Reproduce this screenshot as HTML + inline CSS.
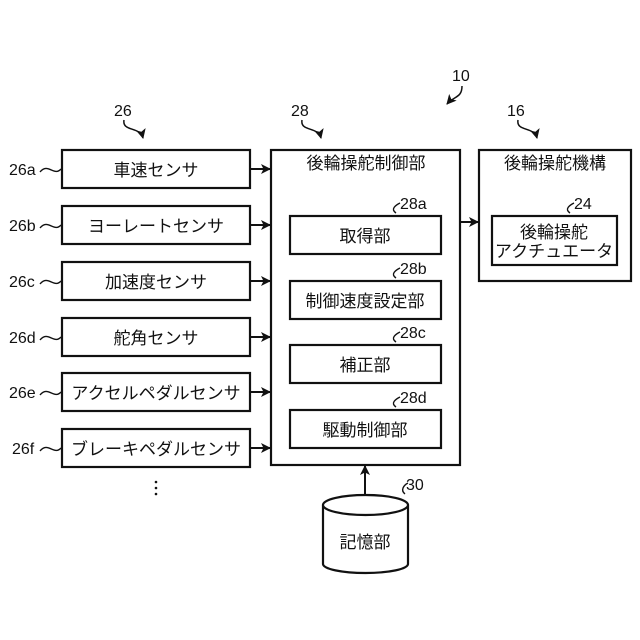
<!DOCTYPE html>
<html><head><meta charset="utf-8"><style>
html,body{margin:0;padding:0;background:#fff}
svg{display:block}
text{font-family:"Liberation Sans","Noto Sans CJK JP",sans-serif;fill:#111}
</style></head><body>
<svg width="640" height="640" viewBox="0 0 640 640" xmlns="http://www.w3.org/2000/svg">
<defs><marker id="ah" markerWidth="10" markerHeight="10" refX="9" refY="5" orient="auto" markerUnits="userSpaceOnUse"><path d="M0,0 L10,5 L0,10 L2.5,5 Z" fill="#111"/></marker></defs>
<g fill="none" stroke="#111" stroke-width="2.2">
<rect x="62" y="150" width="188" height="38"/>
<rect x="62" y="206" width="188" height="38"/>
<rect x="62" y="262" width="188" height="38"/>
<rect x="62" y="318" width="188" height="38"/>
<rect x="62" y="373" width="188" height="38"/>
<rect x="62" y="429" width="188" height="38"/>
<rect x="271" y="150" width="189" height="315"/>
<rect x="290" y="216" width="151" height="38"/>
<rect x="290" y="281" width="151" height="38"/>
<rect x="290" y="345" width="151" height="38"/>
<rect x="290" y="410" width="151" height="38"/>
<rect x="479" y="150" width="152" height="131"/>
<rect x="492" y="216" width="125" height="49"/>
</g>
<g stroke="#111" stroke-width="2" fill="none" marker-end="url(#ah)">
<line x1="251" y1="169" x2="270" y2="169"/>
<line x1="251" y1="225" x2="270" y2="225"/>
<line x1="251" y1="281" x2="270" y2="281"/>
<line x1="251" y1="337" x2="270" y2="337"/>
<line x1="251" y1="392" x2="270" y2="392"/>
<line x1="251" y1="448" x2="270" y2="448"/>
<line x1="461" y1="222" x2="478" y2="222"/>
<line x1="365" y1="494" x2="365" y2="466"/>
</g>
<g stroke="#111" stroke-width="1.4" fill="none">
<path d="M40,172 C48,162 54,177 61,169"/>
<path d="M40,228 C48,218 54,233 61,225"/>
<path d="M40,284 C48,274 54,289 61,281"/>
<path d="M40,340 C48,330 54,345 61,337"/>
<path d="M40,395 C48,385 54,400 61,392"/>
<path d="M40,451 C48,441 54,456 61,448"/>
<path d="M396,213 C390,209 396,205 400,203"/>
<path d="M396,278 C390,274 396,270 400,268"/>
<path d="M396,342 C390,338 396,334 400,332"/>
<path d="M396,407 C390,403 396,399 400,397"/>
<path d="M570,213 C564,209 570,205 574,203"/>
<path d="M405,494 C400,490 404,485 408,483"/>
</g>
<g stroke="#111" stroke-width="1.5" fill="none">
<path d="M124,120 C122,132 140,126 143,138" marker-end="url(#ah)"/>
<path d="M302,120 C300,132 318,126 321,138" marker-end="url(#ah)"/>
<path d="M518,120 C516,132 534,126 537,138" marker-end="url(#ah)"/>
<path d="M462,86 C462,98 454,96 447,104" marker-end="url(#ah)"/>
</g>
<path d="M323,505 L323,564 A42.5,9 0 0 0 408,564 L408,505" fill="#fff" stroke="#111" stroke-width="2.2"/>
<ellipse cx="365.5" cy="505" rx="42.5" ry="10" fill="#fff" stroke="#111" stroke-width="2.2"/>
<g font-size="16">
<text x="114" y="116">26</text>
<text x="291" y="116">28</text>
<text x="507" y="116">16</text>
<text x="452" y="81">10</text>
<text x="9" y="175">26a</text>
<text x="9" y="231">26b</text>
<text x="9" y="287">26c</text>
<text x="9" y="343">26d</text>
<text x="9" y="398">26e</text>
<text x="12" y="454">26f</text>
<text x="400" y="209">28a</text>
<text x="400" y="274">28b</text>
<text x="400" y="338">28c</text>
<text x="400" y="403">28d</text>
<text x="574" y="209">24</text>
<text x="406" y="490">30</text>
</g>
<g font-size="17" text-anchor="middle">
<text x="156" y="176">車速センサ</text>
<text x="156" y="232">ヨーレートセンサ</text>
<text x="156" y="288">加速度センサ</text>
<text x="156" y="344">舵角センサ</text>
<text x="156" y="399">アクセルペダルセンサ</text>
<text x="156" y="455">ブレーキペダルセンサ</text>
<text x="366" y="169">後輪操舵制御部</text>
<text x="365" y="242">取得部</text>
<text x="365" y="307">制御速度設定部</text>
<text x="365" y="371">補正部</text>
<text x="365" y="436">駆動制御部</text>
<text x="555" y="169">後輪操舵機構</text>
<text x="554" y="238">後輪操舵</text>
<text x="554" y="257">アクチュエータ</text>
<text x="365" y="548">記憶部</text>
</g>
<g fill="#111"><circle cx="156" cy="482" r="1.3"/><circle cx="156" cy="488" r="1.3"/><circle cx="156" cy="494" r="1.3"/></g>
</svg>
</body></html>
